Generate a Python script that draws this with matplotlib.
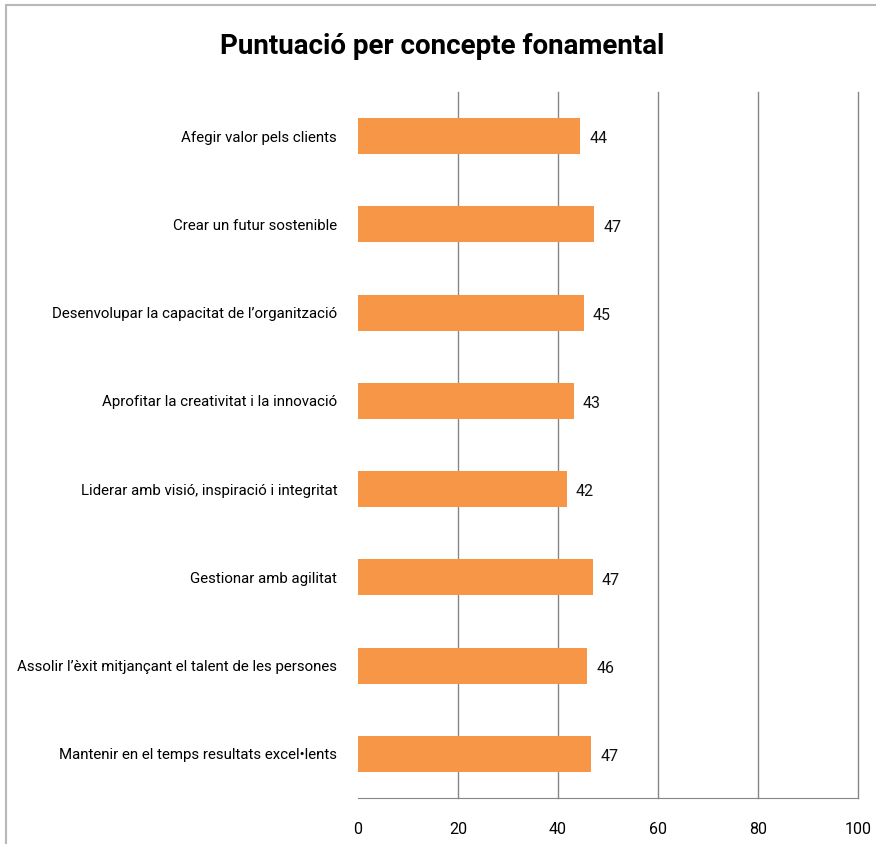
import matplotlib.pyplot as plt
from matplotlib.patches import Rectangle

# categories (top to bottom) and scores
conceptes = [
    "Afegir valor pels clients",
    "Crear un futur sostenible",
    "Desenvolupar la capacitat de l\u2019organització",
    "Aprofitar la creativitat i la innovació",
    "Liderar amb visió, inspiració i integritat",
    "Gestionar amb agilitat",
    "Assolir l\u2019èxit mitjançant el talent de les persones",
    "Mantenir en el temps resultats excel\u2022lents",
]
puntuacio = [44.4, 47.2, 45.1, 43.1, 41.7, 46.9, 45.8, 46.6]
x_ticks = [0, 20, 40, 60, 80, 100]

plt.rcParams['font.family'] = ['Roboto', 'DejaVu Sans']

fig = plt.figure(figsize=(8.76, 8.44), dpi=100)
ax = fig.add_axes([358 / 876, 1 - 798 / 844, 500 / 876, 706 / 844])

# outer chart frame (cropped on right and bottom)
fig.add_artist(Rectangle((6 / 876, -0.1), 1.2, 1 - 5 / 844 + 0.1,
                         transform=fig.transFigure, fill=False,
                         edgecolor='#b8b8b8', linewidth=1.5))

y = list(range(len(conceptes)))
ax.barh(y, puntuacio, height=0.41, color='#F79646', zorder=3)

for yi, v in zip(y, puntuacio):
    ax.text(v + 1.9, yi + 0.03, f"{round(v)}", va='center', ha='left',
            fontsize=11.5, color='#111111')

ax.set_ylim(len(conceptes) - 0.5, -0.5)
ax.set_xlim(0, 100)
ax.set_xticks(x_ticks)
ax.set_yticks(y)
ax.set_yticklabels(conceptes, fontsize=10.8)
ax.tick_params(axis='both', length=0)
ax.tick_params(axis='x', labelsize=11.5, pad=17)
ax.tick_params(axis='y', pad=15)

ax.grid(axis='x', color='#868686', linewidth=1, zorder=0)
gl = ax.xaxis.get_gridlines()
gl[0].set_visible(False)
for g in gl:
    g.set_clip_on(False)
for s in ['top', 'left', 'right']:
    ax.spines[s].set_visible(False)
ax.spines['bottom'].set_color('#868686')

fig.text(0.505, 1 - 47 / 844, "Puntuació per concepte fonamental",
         ha='center', va='center', fontsize=20, fontweight='bold')

fig.savefig("out.png", dpi=100)
